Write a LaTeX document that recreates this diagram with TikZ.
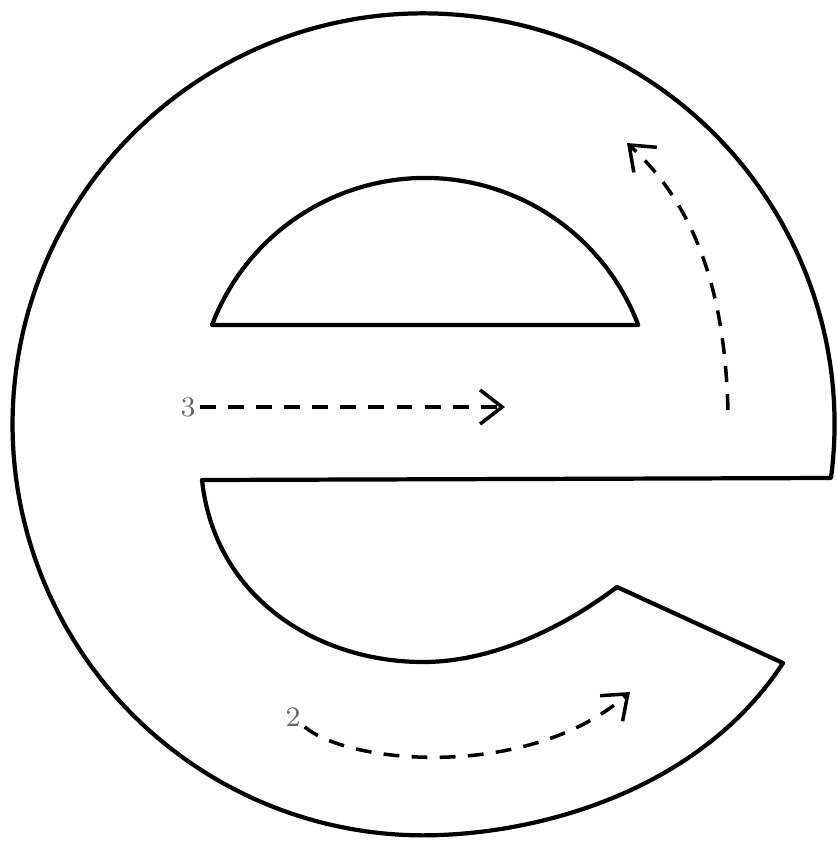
\documentclass[tikz,border=0pt]{standalone}
\usepackage{tikz}
\usetikzlibrary{arrows.meta, positioning, calc}

\begin{document}
\begin{tikzpicture}[
    x=0.01cm, y=-0.01cm,
    outline/.style={draw, line width=1.2pt, line join=round},
    flow/.style={line width=1pt, dash pattern=on 4.5pt off 3.5pt,
      -{Straight Barb[length=2.2mm, width=3.4mm]}},
    tag/.style={font=\fontsize{8}{9}\selectfont, text=black!60, inner sep=1pt}
]
\useasboundingbox (0,0) rectangle (837,841);

% letter outline
\draw[outline] (831,478) arc[start angle=7.5, end angle=-270, radius=411]
  .. controls (540,835) and (700,790) .. (783,663)
  -- (617,587)
  .. controls (560,630) and (490,662) .. (423,662)
  .. controls (320,662) and (215,600) .. (202,480)
  -- cycle;

% eye of the e
\draw[outline] (212,325) arc[start angle=-159.2, end angle=-20.8, radius=228] -- cycle;

% flow labels and ends
\node[tag] (l3) at (188,407) {3};
\node[tag] (l2) at (293,717) {2};
\coordinate (e3) at (505,407);
\coordinate (e2) at (630,692);
\coordinate (s1) at (728,410);
\coordinate (e1) at (627,143);

\draw[flow] (l3) -- (e3);
\draw[flow] (l2) .. controls (350,765) and (530,780) .. (e2);
\draw[flow] (s1) .. controls (725,300) and (700,210) .. (e1);
\end{tikzpicture}
\end{document}
